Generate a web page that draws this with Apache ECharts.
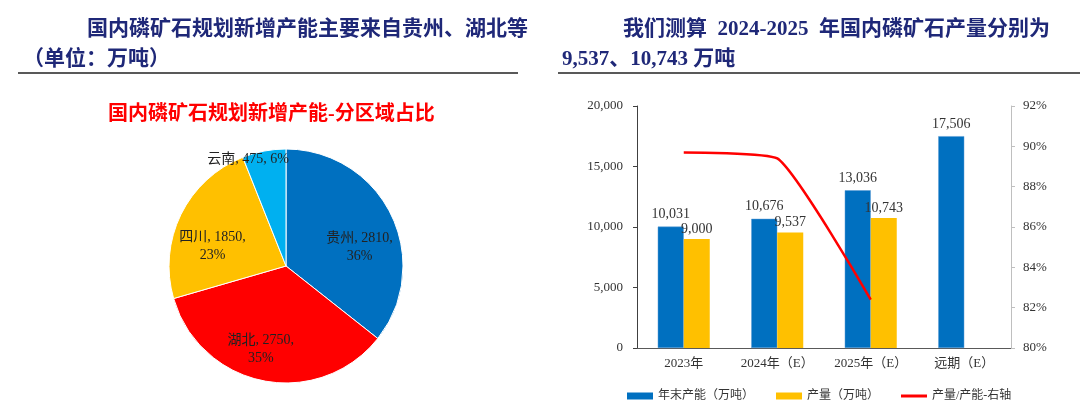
<!DOCTYPE html>
<html>
<head>
<meta charset="utf-8">
<script src="https://cdn.jsdelivr.net/npm/echarts@6/dist/echarts.min.js"></script>
<style>
  html, body { margin: 0; padding: 0; background: #fff; }
  #chart { width: 1080px; height: 420px; }
</style>
</head>
<body>
<div id="chart"></div>
<script>
// Pie: planned new capacity by region (万吨)
const regions = ['贵州', '湖北', '四川', '云南'];
const regionValues = [2810, 2750, 1850, 475];
const regionColors = ['#0070c0', '#ff0000', '#ffc000', '#00b0f0'];

// Bars + line
const periods = ['2023年', '2024年（E）', '2025年（E）', '远期（E）'];
const capacity = [10031, 10676, 13036, 17506];
const output = [9000, 9537, 10743, null];
const utilization = [89.7, 89.4, 82.4, null]; // 产量/产能, %

const serif = "'Liberation Serif', 'Noto Sans CJK SC'";
const navy = '#1f2878';

const total = regionValues.reduce((a, b) => a + b, 0);
const pieData = regions.map((r, i) => ({
    name: r,
    value: regionValues[i],
    itemStyle: { color: regionColors[i] }
}));

function pieLabel(p) {
    const pct = Math.round(p.value / total * 100);
    if (p.dataIndex === 3) return `${p.name}, ${p.value}, ${pct}%`;
    return `${p.name}, ${p.value},\n${pct}%`;
}

// small nudges so the pie labels sit where the original has them
const labelShift = [{ dx: -2, dy: 18 }, { dx: -9, dy: 1 }, { dx: 2, dy: 17 }, { dx: -22, dy: -24 }];

const headStyle = { color: navy, fontSize: 21, fontWeight: 'bold', fontFamily: serif };

const chart = echarts.init(document.getElementById('chart'));

chart.setOption({
    animation: false,
    title: [
        { text: '国内磷矿石规划新增产能主要来自贵州、湖北等', left: 82, top: 14, textStyle: headStyle },
        { text: '（单位：万吨）', left: 18, top: 44, textStyle: headStyle },
        { text: '我们测算  2024-2025  年国内磷矿石产量分别为', left: 618, top: 14, textStyle: headStyle },
        { text: '9,537、10,743 万吨', left: 557, top: 44, textStyle: headStyle },
        { text: '国内磷矿石规划新增产能-分区域占比', left: 103, top: 100,
          textStyle: { color: '#ff0000', fontSize: 20, fontWeight: 'bold', fontFamily: serif } }
    ],
    graphic: [
        { type: 'line', shape: { x1: 18, y1: 73, x2: 518, y2: 73 }, style: { stroke: '#222', lineWidth: 1.5 } },
        { type: 'line', shape: { x1: 558, y1: 73, x2: 1080, y2: 73 }, style: { stroke: '#222', lineWidth: 1.5 } }
    ],
    legend: [
        {
            left: 627, top: 390, padding: 0,
            itemWidth: 26, itemHeight: 7, itemGap: 22,
            itemStyle: { borderWidth: 0 },
            textStyle: { color: '#333', fontSize: 12, fontFamily: serif },
            data: [
                { name: '年末产能（万吨）', icon: 'rect' },
                { name: '产量（万吨）', icon: 'rect' }
            ]
        },
        {
            left: 901, top: 390, padding: 0,
            itemWidth: 26, itemHeight: 3,
            textStyle: { color: '#333', fontSize: 12, fontFamily: serif },
            data: [{ name: '产量/产能-右轴', icon: 'rect' }]
        }
    ],
    grid: { left: 637, right: 69, top: 106, bottom: 72 },
    xAxis: {
        type: 'category',
        data: periods,
        axisLine: { lineStyle: { color: '#595959' } },
        axisTick: { length: 4, lineStyle: { color: '#595959' } },
        axisLabel: { color: '#333', fontSize: 13, fontFamily: serif, margin: 9, interval: 0 }
    },
    yAxis: [
        {
            type: 'value', min: 0, max: 20000, interval: 5000,
            axisLine: { show: true, lineStyle: { color: '#404040' } },
            axisTick: { show: true, length: 4, lineStyle: { color: '#404040' } },
            splitLine: { show: false },
            axisLabel: {
                color: '#333', fontSize: 13, fontFamily: serif, margin: 14,
                formatter: v => v.toLocaleString('en-US')
            }
        },
        {
            type: 'value', min: 80, max: 92, interval: 2,
            axisLine: { show: true, lineStyle: { color: '#bfbfbf' } },
            axisTick: { show: true, length: 4, lineStyle: { color: '#bfbfbf' } },
            splitLine: { show: false },
            axisLabel: { color: '#333', fontSize: 13, fontFamily: serif, margin: 12, formatter: '{value}%' }
        }
    ],
    series: [
        {
            name: '年末产能（万吨）', type: 'bar', data: capacity,
            barWidth: 26, barGap: '0%',
            itemStyle: { color: '#0070c0', borderColor: '#5b9bd5', borderWidth: 0.5 },
            label: { show: true, position: 'top', distance: 5, color: '#333', fontSize: 14, fontFamily: serif,
                     formatter: p => p.value.toLocaleString('en-US') }
        },
        {
            name: '产量（万吨）', type: 'bar', data: output,
            barWidth: 26,
            itemStyle: { color: '#ffc000' },
            label: { show: true, position: 'top', distance: 3, color: '#333', fontSize: 14, fontFamily: serif,
                     formatter: p => p.value.toLocaleString('en-US') }
        },
        {
            name: '产量/产能-右轴', type: 'line', yAxisIndex: 1, data: utilization,
            smooth: 0.15, symbol: 'none',
            lineStyle: { color: '#ff0000', width: 2.5 },
            itemStyle: { color: '#ff0000' }
        },
        {
            name: 'region', type: 'pie', center: [286, 266], radius: [0, 117],
            startAngle: 90, clockwise: true,
            data: pieData,
            itemStyle: { borderColor: '#fff', borderWidth: 1 },
            label: { show: false }, labelLine: { show: false },
            emphasis: { disabled: true }
        },
        {
            // invisible copy of the pie, only to place the labels further out
            name: 'regionLabels', type: 'pie', center: [286, 266], radius: [0, 162],
            startAngle: 90, clockwise: true, silent: true,
            data: pieData.map(d => ({ name: d.name, value: d.value })),
            itemStyle: { color: 'rgba(0,0,0,0)' },
            label: { show: true, position: 'inside', color: '#222', fontSize: 14, fontFamily: serif,
                     lineHeight: 18, overflow: 'none', formatter: pieLabel },
            labelLine: { show: false },
            labelLayout: p => labelShift[p.dataIndex],
            emphasis: { disabled: true }
        }
    ]
});
</script>
</body>
</html>
